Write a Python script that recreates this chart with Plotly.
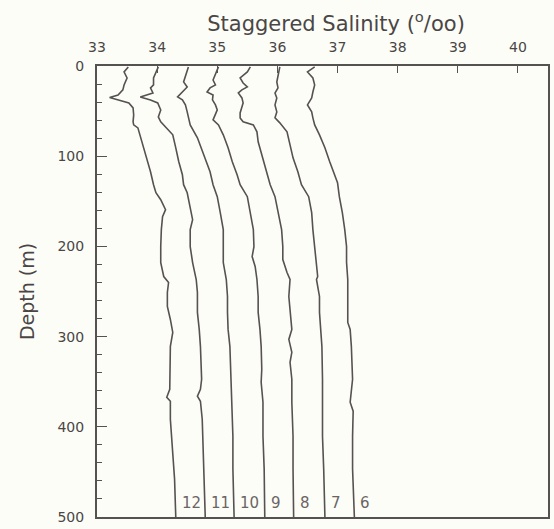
import plotly.graph_objects as go

# ---- data (staggered salinity) ----
profile_labels = ["12", "11", "10", "9", "8", "7", "6"]

depth_12 = [1, 6.6, 13.3, 21, 26.5, 32.1, 35, 37.6, 40.9, 46.5, 54.2, 61.9, 65.3, 68.6, 79.6, 98.5, 117.3, 131.6,
            140.5, 148.2, 159.3, 167, 181.4, 200.2, 217.9, 233.4, 240.1, 251.1, 266.6, 281, 295.4, 310.8, 333,
            358.4, 367.3, 371.7, 391.6, 410.4, 432.5, 458, 500]
sal_12 = [33.52, 33.45, 33.50, 33.45, 33.43, 33.35, 33.21, 33.36, 33.53, 33.60, 33.61, 33.60, 33.61, 33.68, 33.73,
          33.81, 33.89, 33.94, 33.98, 34.06, 34.14, 34.09, 34.07, 34.06, 34.06, 34.11, 34.19, 34.17, 34.17, 34.22,
          34.26, 34.22, 34.21, 34.21, 34.16, 34.22, 34.22, 34.24, 34.27, 34.29, 34.31]

depth_11 = [1, 6.6, 13.3, 21, 24.3, 29.9, 34.3, 37.6, 40.9, 48.7, 56.4, 61.9, 67.5, 76.3, 90.7, 106.2, 120.6, 131.6,
            140.5, 156, 170.4, 181.4, 200.2, 217.9, 236.7, 251.1, 273.2, 292, 310.8, 347.3, 358.4, 366.1, 371.7,
            391.6, 428.1, 465.7, 500]
sal_11 = [34.02, 33.98, 33.94, 33.94, 33.89, 33.93, 33.72, 33.89, 34.01, 34.06, 34.02, 34.06, 34.14, 34.26, 34.31,
          34.36, 34.42, 34.44, 34.50, 34.55, 34.59, 34.55, 34.55, 34.59, 34.65, 34.67, 34.67, 34.70, 34.72, 34.74,
          34.72, 34.67, 34.72, 34.75, 34.77, 34.79, 34.80]

depth_10 = [1, 10, 17.7, 23.2, 28.8, 34.3, 37.6, 43.1, 50.9, 57.5, 65.3, 79.6, 98.5, 117.3, 131.6, 144.9, 162.6,
            181.4, 200.2, 217.9, 236.7, 255.5, 273.2, 292, 310.8, 347.3, 372.8, 410.4, 446.9, 500]
sal_10 = [34.52, 34.47, 34.44, 34.50, 34.42, 34.34, 34.42, 34.47, 34.50, 34.52, 34.55, 34.67, 34.77, 34.88, 34.93,
          35.00, 35.05, 35.10, 35.10, 35.10, 35.15, 35.17, 35.17, 35.18, 35.21, 35.23, 35.25, 35.26, 35.26, 35.28]

depth_9 = [1, 10, 15.5, 21, 24.3, 28.8, 32.1, 37.6, 43.1, 48.7, 54.2, 59.7, 65.3, 76.3, 90.7, 106.2, 120.6, 131.6,
           144.9, 162.6, 181.4, 200.2, 211.3, 222.3, 236.7, 255.5, 273.2, 292, 310.8, 336.3, 350.7, 372.8, 410.4,
           446.9, 500]
sal_9 = [35.02, 34.97, 34.93, 34.97, 34.88, 34.83, 34.93, 34.92, 34.97, 35.00, 34.97, 34.93, 35.02, 35.10, 35.18,
         35.25, 35.33, 35.38, 35.50, 35.55, 35.60, 35.61, 35.58, 35.63, 35.66, 35.68, 35.68, 35.71, 35.73, 35.74,
         35.73, 35.76, 35.76, 35.78, 35.79]

depth_8 = [1, 6.6, 13.3, 18.8, 23.2, 26.5, 29.9, 35.4, 40.9, 46.5, 52, 57.5, 61.9, 65.3, 73, 84, 98.5, 112.8, 131.6,
           144.9, 162.6, 181.4, 200.2, 214.6, 228.9, 236.7, 255.5, 273.2, 292, 303.1, 317.5, 328.5, 347.3, 372.8,
           410.4, 446.9, 500]
sal_8 = [35.55, 35.50, 35.38, 35.43, 35.50, 35.41, 35.35, 35.41, 35.43, 35.41, 35.38, 35.38, 35.43, 35.60, 35.66,
         35.68, 35.74, 35.79, 35.88, 35.96, 36.01, 36.07, 36.09, 36.09, 36.16, 36.21, 36.19, 36.21, 36.24, 36.19,
         36.24, 36.21, 36.24, 36.24, 36.26, 36.26, 36.27]

depth_7 = [1, 10, 17.7, 24.3, 29.9, 35.4, 43.1, 50.9, 57.5, 63, 73, 87.4, 101.8, 117.3, 131.6, 144.9, 162.6, 181.4,
           200.2, 217.9, 233.4, 236.7, 255.5, 273.2, 292, 310.8, 347.3, 372.8, 410.4, 446.9, 500]
sal_7 = [36.04, 36.01, 35.99, 36.01, 35.96, 35.99, 35.96, 35.99, 35.96, 36.04, 36.16, 36.21, 36.26, 36.34, 36.40,
         36.52, 36.57, 36.59, 36.62, 36.65, 36.67, 36.65, 36.70, 36.70, 36.72, 36.74, 36.75, 36.75, 36.75, 36.77,
         36.79]

depth_6 = [1, 6.6, 13.3, 21, 28.8, 35.4, 43.1, 50.9, 57.5, 65.3, 76.3, 90.7, 106.2, 120.6, 129.4, 144.9, 162.6,
           181.4, 200.2, 217.9, 236.7, 255.5, 284.3, 292, 310.8, 347.3, 372.8, 382.7, 410.4, 446.9, 500]
sal_6 = [36.62, 36.50, 36.59, 36.62, 36.59, 36.57, 36.50, 36.57, 36.59, 36.62, 36.70, 36.79, 36.87, 36.95, 37.00,
         37.03, 37.08, 37.12, 37.15, 37.15, 37.17, 37.17, 37.17, 37.21, 37.23, 37.25, 37.21, 37.26, 37.25, 37.25,
         37.28]

x_tick_vals = [33, 34, 35, 36, 37, 38, 39, 40]
y_tick_vals = [0, 100, 200, 300, 400, 500]

depths = [depth_12, depth_11, depth_10, depth_9, depth_8, depth_7, depth_6]
sals = [sal_12, sal_11, sal_10, sal_9, sal_8, sal_7, sal_6]

INK = "#575252"
TXT = "#4a4646"
FONT = "DejaVu Sans"

fig = go.Figure()
for lab, d, s in zip(profile_labels, depths, sals):
    fig.add_trace(go.Scatter(x=s, y=d, mode="lines", name=lab,
                             line=dict(color=INK, width=1.6), showlegend=False))
    fig.add_annotation(x=s[-1], y=484, xref="x", yref="y", text=lab, showarrow=False,
                       xanchor="left", yanchor="middle", xshift=4,
                       font=dict(family=FONT, size=15, color="#6a6565"))

fig.update_layout(
    width=554, height=529,
    margin=dict(l=97, r=4, t=66, b=10),
    paper_bgcolor="#fdfdf7", plot_bgcolor="#fdfdf7",
    font=dict(family=FONT, color=TXT),
    title=dict(text="Staggered Salinity (<sup>o</sup>/oo)", xref="paper", x=0.53, xanchor="center",
               yref="container", y=0.955, yanchor="middle",
               font=dict(family=FONT, size=21, color=TXT)),
)
fig.update_xaxes(
    side="top", range=[33, 40.5], tickvals=x_tick_vals,
    ticks="inside", ticklen=7, tickwidth=1.3, tickcolor=INK,
    ticklabelstandoff=6,
    showline=True, mirror=True, linecolor=INK, linewidth=2,
    showgrid=False, zeroline=False,
    tickfont=dict(family=FONT, size=14, color=TXT),
)
fig.update_yaxes(
    range=[500, 0], tickvals=y_tick_vals,
    ticks="inside", ticklen=10, tickwidth=1.3, tickcolor=INK,
    ticklabelstandoff=8,
    minor=dict(dtick=20, ticks="inside", ticklen=5, tickwidth=1.3, tickcolor=INK),
    showline=True, mirror=True, linecolor=INK, linewidth=2,
    showgrid=False, zeroline=False,
    tickfont=dict(family=FONT, size=14, color=TXT),
    title=dict(text="Depth (m)", standoff=18,
               font=dict(family=FONT, size=19, color=TXT)),
)

fig.write_html("out.html", config={"displayModeBar": False},
               post_script="document.body.style.margin='0';document.body.style.padding='0';"
                           "document.body.style.overflow='hidden';")
